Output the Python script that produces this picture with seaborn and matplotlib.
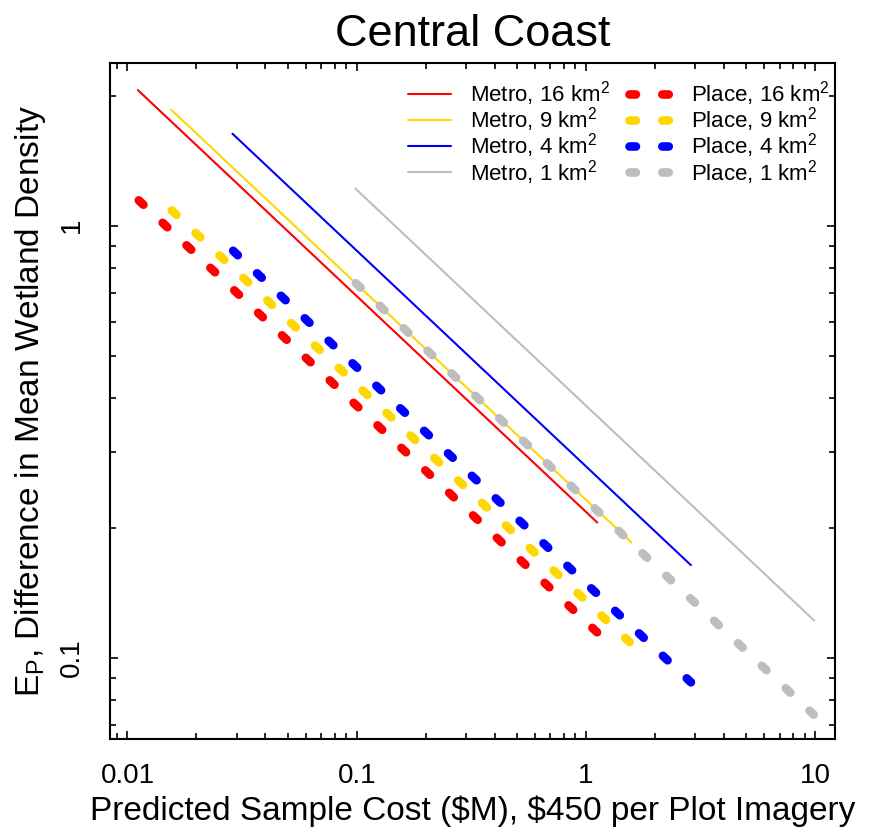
import matplotlib
matplotlib.use("Agg")
import matplotlib.pyplot as plt
from matplotlib.ticker import FixedLocator, FixedFormatter, LogLocator, NullFormatter
import pandas as pd
import seaborn as sns

sns.set_style("ticks")
plt.rcParams["font.family"] = ["Liberation Sans", "DejaVu Sans"]
plt.rcParams["mathtext.fontset"] = "custom"
plt.rcParams["mathtext.rm"] = "Liberation Sans"
plt.rcParams["mathtext.default"] = "regular"
for key in ["text.color", "axes.labelcolor", "xtick.color", "ytick.color", "axes.edgecolor"]:
    plt.rcParams[key] = "black"

# Plot areas (km^2) and their colours
areas = ["16", "9", "4", "1"]
colors = ["#FF0000", "#FFD700", "#0000FF", "#BEBEBE"]

# Metro-based design: cost ($M) and error at both ends of each curve
metro_cost_start = [0.0111, 0.0155, 0.0287, 0.0985]
metro_cost_end = [1.12, 1.58, 2.87, 9.9]
metro_err_start = [2.06, 1.856, 1.633, 1.22]
metro_err_end = [0.2057, 0.1849, 0.1639, 0.122]

# Place-based design
place_cost_start = [0.0112, 0.0156, 0.0289, 0.0992]
place_cost_end = [1.12, 1.55, 2.87, 9.85]
place_err_start = [1.145, 1.085, 0.875, 0.736]
place_err_end = [0.1145, 0.1088, 0.0878, 0.0739]

x_ticks = [0.01, 0.1, 1, 10]
x_tick_labels = ["0.01", "0.1", "1", "10"]
y_ticks = [0.1, 1]
y_tick_labels = ["0.1", "1"]

rows = []
for i, a in enumerate(areas):
    rows.append(dict(design="Metro", area=a, cost=metro_cost_start[i], err=metro_err_start[i]))
    rows.append(dict(design="Metro", area=a, cost=metro_cost_end[i], err=metro_err_end[i]))
for i, a in enumerate(areas):
    rows.append(dict(design="Place", area=a, cost=place_cost_start[i], err=place_err_start[i]))
    rows.append(dict(design="Place", area=a, cost=place_cost_end[i], err=place_err_end[i]))
df = pd.DataFrame(rows)

fig = plt.figure(figsize=(8.69, 8.33), dpi=100)
ax = fig.add_axes([110 / 869, 1 - 739 / 833, 725 / 869, 676 / 833])

for design in ["Metro", "Place"]:
    for i, a in enumerate(areas):
        sub = df[(df.design == design) & (df.area == a)]
        label = f"{design}, {a} km$^{{2}}$"
        if design == "Metro":
            sns.lineplot(data=sub, x="cost", y="err", ax=ax, color=colors[i],
                         linewidth=1.5, estimator=None, sort=False,
                         label=label, legend=False)
        else:
            sns.lineplot(data=sub, x="cost", y="err", ax=ax, color=colors[i],
                         linewidth=6.2, estimator=None, sort=False,
                         linestyle=(0, (0.75, 3.06)), dash_capstyle="round",
                         label=label, legend=False)

ax.set_xscale("log")
ax.set_yscale("log")
ax.set_xlim(0.00839, 12.2)
ax.set_ylim(0.0649, 2.38)

ax.xaxis.set_major_locator(FixedLocator(x_ticks))
ax.xaxis.set_major_formatter(FixedFormatter(x_tick_labels))
ax.yaxis.set_major_locator(FixedLocator(y_ticks))
ax.yaxis.set_major_formatter(FixedFormatter(y_tick_labels))
ax.xaxis.set_minor_locator(LogLocator(base=10, subs=range(2, 10)))
ax.yaxis.set_minor_locator(LogLocator(base=10, subs=range(2, 10)))
ax.xaxis.set_minor_formatter(NullFormatter())
ax.yaxis.set_minor_formatter(NullFormatter())

ax.tick_params(which="both", direction="in", top=True, right=True,
               color="black", width=1.2)
ax.tick_params(which="major", length=6, labelsize=20, pad=17)
ax.tick_params(which="minor", length=4)
ax.tick_params(axis="y", labelrotation=90, pad=18)
for lab in ax.get_yticklabels():
    lab.set_va("center")

for sp in ax.spines.values():
    sp.set_visible(True)
    sp.set_linewidth(1.5)
    sp.set_color("black")

ax.set_title("Central Coast", fontsize=32.5, pad=12)
ax.set_xlabel(r"Predicted Sample Cost (\$M), \$450 per Plot Imagery", fontsize=24, labelpad=5)
ax.set_ylabel(r"E$_{P}$, Difference in Mean Wetland Density", fontsize=24, labelpad=8)

ax.legend(ncol=2, loc="upper left", bbox_to_anchor=((408 - 110) / 725, (739 - 79) / 676),
          frameon=False, fontsize=16, borderpad=0, borderaxespad=0,
          handlelength=1.92, handletextpad=0.87, columnspacing=0.85,
          labelspacing=-0.12)

fig.savefig("out.png", dpi=100, facecolor="white")
